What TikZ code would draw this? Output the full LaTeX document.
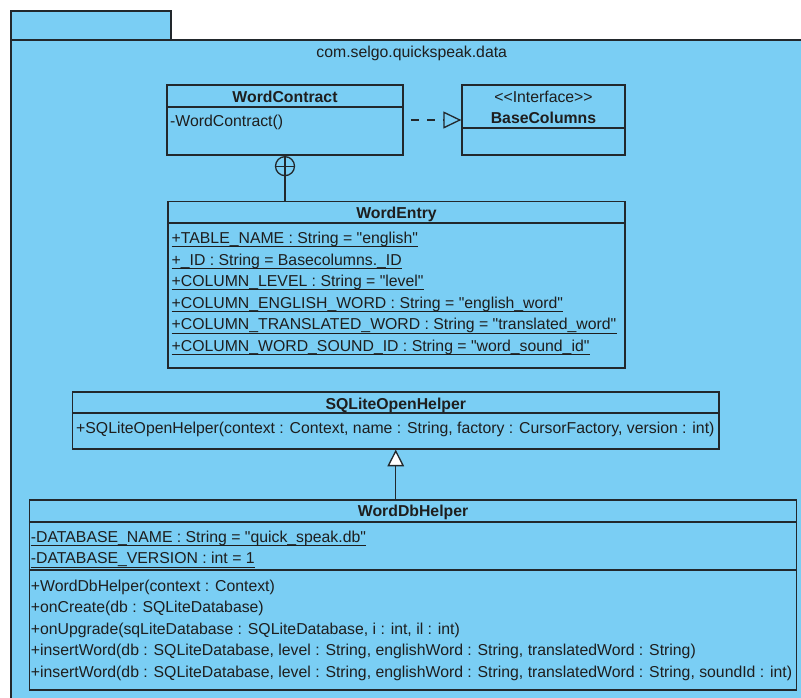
\documentclass[tikz,border=0pt]{standalone}
\usepackage{fontspec}
\setmainfont{Liberation Sans}[Ligatures=TeXOff]
\usetikzlibrary{arrows.meta}

\definecolor{umlblue}{RGB}{122,206,244}
\definecolor{umlline}{RGB}{34,40,44}
\definecolor{umltext}{RGB}{30,30,30}

% static member: name, base-west position, text (underlined)
\newcommand\staticmember[3]{%
  \node[member] (#1) at (#2) {#3};
  \draw[uline] ([yshift=-3.3pt]#1.base west) -- ([yshift=-3.3pt]#1.base east);}

\begin{document}
\begin{tikzpicture}[x=1pt,y=-1pt,
  every node/.style={text=umltext},
  pkgshape/.style={draw=umlline, fill=umlblue, line width=1.3pt},
  classbox/.style={draw=umlline, line width=1.3pt, rectangle, inner sep=0pt},
  classline/.style={draw=umlline, line width=1.3pt},
  title/.style={anchor=base, inner sep=0pt, font=\fontsize{15.8pt}{18pt}\selectfont\bfseries},
  plain/.style={anchor=base, inner sep=0pt, font=\fontsize{15.8pt}{18pt}\selectfont},
  member/.style={anchor=base west, inner sep=0pt, font=\fontsize{15.8pt}{18pt}\selectfont},
  uline/.style={draw=umltext, line width=1pt},
  realize/.style={draw=umlline, line width=1.3pt, dash pattern=on 8pt off 8pt,
    shorten <=7.7pt, -{Triangle[open, length=18pt, width=17pt]}},
  generalize/.style={draw=umlline, line width=1.3pt,
    -{Triangle[fill=white, length=16.6pt, width=16.6pt]}},
  assoc/.style={draw=umlline, line width=1.3pt},
  nestmark/.style={circle, draw=umlline, line width=1.3pt, minimum size=19pt, inner sep=0pt}]

\useasboundingbox (0,0) rectangle (801,697);
\clip (0,0) rectangle (801,697);

% package frame with its tab
\draw[pkgshape] (11,11) rectangle (171,40);
\draw[pkgshape] (11,40) rectangle (840,740);
\node[plain] (pkgname) at (411.7,57.4) {com.selgo.quickspeak.data};

% WordContract
\node[classbox, minimum width=236pt, minimum height=70pt] (wc) at (285,120) {};
\draw[classline] (wc.west |- 0,107) -- (wc.east |- 0,107);
\node[title] (wctitle) at (285,102.2) {WordContract};
\node[member] (wcm1) at (170,126.4) {-WordContract()};

% BaseColumns
\node[classbox, minimum width=163pt, minimum height=70pt] (bc) at (543.5,120) {};
\draw[classline] (bc.west |- 0,128) -- (bc.east |- 0,128);
\node[plain] (bcstereo) at (543.5,102.4) {<<Interface>>};
\node[title] (bctitle) at (543.5,123.4) {BaseColumns};

% WordEntry
\node[classbox, minimum width=457pt, minimum height=166.5pt] (we) at (396.5,284.75) {};
\draw[classline] (we.west |- 0,223) -- (we.east |- 0,223);
\node[title] (wetitle) at (396.5,218.7) {WordEntry};
\staticmember{wea1}{171.5,243.4}{+TABLE\_NAME : String = "english"}
\staticmember{wea2}{171.5,265.0}{+\_ID : String = Basecolumns.\_ID}
\staticmember{wea3}{171.5,286.6}{+COLUMN\_LEVEL : String = "level"}
\staticmember{wea4}{171.5,308.2}{+COLUMN\_ENGLISH\_WORD : String = "english\_word"}
\staticmember{wea5}{171.5,329.8}{+COLUMN\_TRANSLATED\_WORD : String = "translated\_word"}
\staticmember{wea6}{171.5,351.4}{+COLUMN\_WORD\_SOUND\_ID : String = "word\_sound\_id"}

% SQLiteOpenHelper
\node[classbox, minimum width=646.5pt, minimum height=57pt] (sq) at (395.75,420.5) {};
\draw[classline] (sq.west |- 0,413) -- (sq.east |- 0,413);
\node[title] (sqtitle) at (395.75,409.2) {SQLiteOpenHelper};
\node[member] (sqm1) at (76,433.4) {+SQLiteOpenHelper(context : Context, name : String, factory : CursorFactory, version : int)};

% WordDbHelper
\node[classbox, minimum width=767pt, minimum height=190pt] (wd) at (413.1,595) {};
\draw[classline] (wd.west |- 0,522) -- (wd.east |- 0,522);
\draw[classline] (wd.west |- 0,570) -- (wd.east |- 0,570);
\node[title] (wdtitle) at (413.1,516.7) {WordDbHelper};
\staticmember{wda1}{30.7,542.4}{-DATABASE\_NAME : String = "quick\_speak.db"}
\staticmember{wda2}{30.7,563.7}{-DATABASE\_VERSION : int = 1}
\node[member] (wdm1) at (30.7,591.4) {+WordDbHelper(context : Context)};
\node[member] (wdm2) at (30.7,612.9) {+onCreate(db : SQLiteDatabase)};
\node[member] (wdm3) at (30.7,634.4) {+onUpgrade(sqLiteDatabase : SQLiteDatabase, i : int, il : int)};
\node[member] (wdm4) at (30.7,655.9) {+insertWord(db : SQLiteDatabase, level : String, englishWord : String, translatedWord : String)};
\node[member] (wdm5) at (30.7,677.4) {+insertWord(db : SQLiteDatabase, level : String, englishWord : String, translatedWord : String, soundId : int)};

% WordContract realizes BaseColumns
\draw[realize] (wc.east) -- (bc.west);

% WordEntry is nested in WordContract
\node[nestmark] (nest) at ([yshift=-10.5pt]wc.south) {};
\draw[assoc] (nest.north) -- (nest.south) (nest.west) -- (nest.east);
\draw[assoc] (wc.south |- we.north) -- (nest.south);

% WordDbHelper extends SQLiteOpenHelper
\draw[generalize] (wd.north -| sq.south) -- (sq.south);
\end{tikzpicture}
\end{document}
